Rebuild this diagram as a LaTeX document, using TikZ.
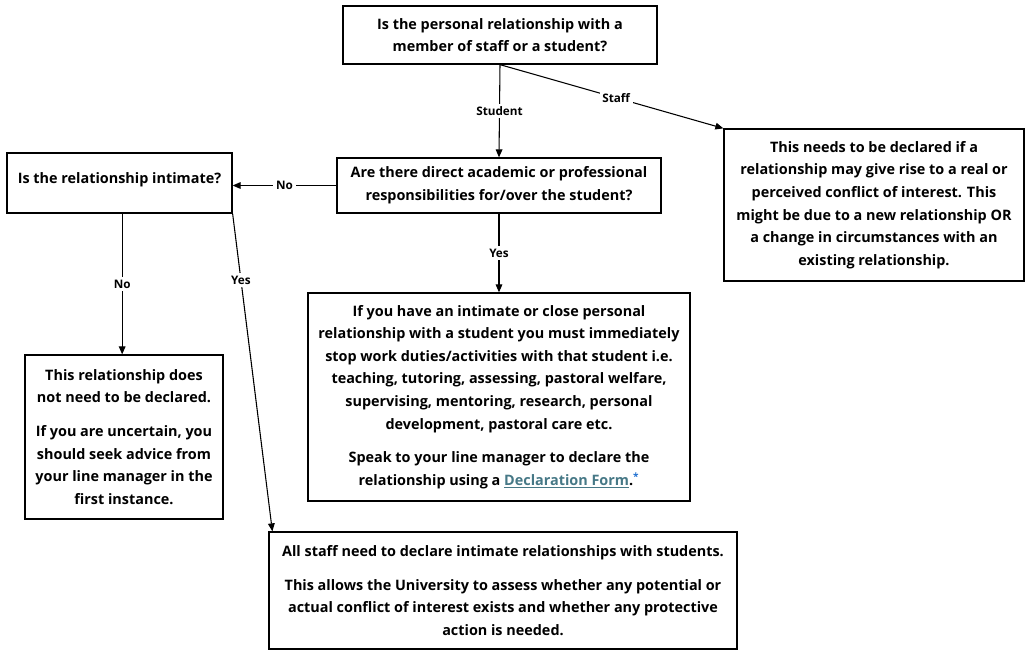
\documentclass[tikz,border=0pt]{standalone}
\usepackage{fontspec}
\setmainfont{Open Sans}
\usetikzlibrary{arrows.meta,calc}
\definecolor{linkc}{HTML}{467886}
\definecolor{astc}{HTML}{1F6FD0}
\begin{document}
\begin{tikzpicture}[x=0.75pt,y=-0.75pt,
  box/.style={draw=black,line width=0.95pt,align=center,inner sep=0pt,
    font=\fontsize{10.8pt}{16.95pt}\selectfont\bfseries},
  lbl/.style={fill=white,inner sep=2pt,font=\fontsize{8.8pt}{10pt}\selectfont\bfseries},
  conn/.style={line width=0.8pt,-{Triangle[length=6pt,width=5pt]}},
  plain/.style={line width=0.75pt}]
\useasboundingbox (0,0) rectangle (1033,657);
\node[box,minimum width=314*0.75pt,minimum height=58*0.75pt] (top) at (500,35)
  {Is the personal relationship with a\\member of staff or a student?};
\node[box,minimum width=324*0.75pt,minimum height=55*0.75pt] (q2) at (499,185.5)
  {Are there direct academic or professional\\responsibilities for/over the student?};
\node[box,minimum width=300*0.75pt,minimum height=152*0.75pt] (staffbox) at (874,205)
  {This needs to be declared if a\\relationship may give rise to a real or\\perceived conflict of interest. This\\might be due to a new relationship OR\\a change in circumstances with an\\existing relationship.};
\node[box,minimum width=225*0.75pt,minimum height=60*0.75pt] (intimate) at (119.5,183)
  {Is the relationship intimate?\\[-9pt]\mbox{}};
\node[box,minimum width=198*0.75pt,minimum height=164*0.75pt] (nobox) at (124,437)
  {This relationship does\\not need to be declared.\\[8.5pt]If you are uncertain, you\\should seek advice from\\your line manager in the\\first instance.};
\node[box,minimum width=382*0.75pt,minimum height=208*0.75pt] (bigbox) at (499,397)
  {If you have an intimate or close personal\\relationship with a student you must immediately\\stop work duties/activities with that student i.e.\\teaching, tutoring, assessing, pastoral welfare,\\supervising, mentoring, research, personal\\development, pastoral care etc.\\[8.5pt]Speak to your line manager to declare the\\relationship using a \textcolor{linkc}{\underline{Declaration Form}}.\textsuperscript{\textcolor{astc}{*}}};
\node[box,minimum width=468*0.75pt,minimum height=117*0.75pt] (bottombox) at (503,590.5)
  {All staff need to declare intimate relationships with students.\\[8.5pt]This allows the University to assess whether any potential or\\actual conflict of interest exists and whether any protective\\action is needed.};
% connectors
\draw[conn] (top.south) -- node[lbl]{Student} (q2.north);
\draw[conn] (top.south) -- node[lbl,pos=0.52]{Staff} (staffbox.north west);
\draw[conn] (q2.west) -- node[lbl]{No} (q2.west -| intimate.east);
\draw[conn] (q2.south) -- node[lbl]{Yes} (bigbox.north);
\draw[conn] ([xshift=2]intimate.south) -- node[lbl]{No} ([xshift=2]intimate.south |- nobox.north);
\draw[conn] (intimate.south east) -- node[lbl,pos=0.21]{Yes} ([xshift=3]bottombox.north west);
\end{tikzpicture}
\end{document}
